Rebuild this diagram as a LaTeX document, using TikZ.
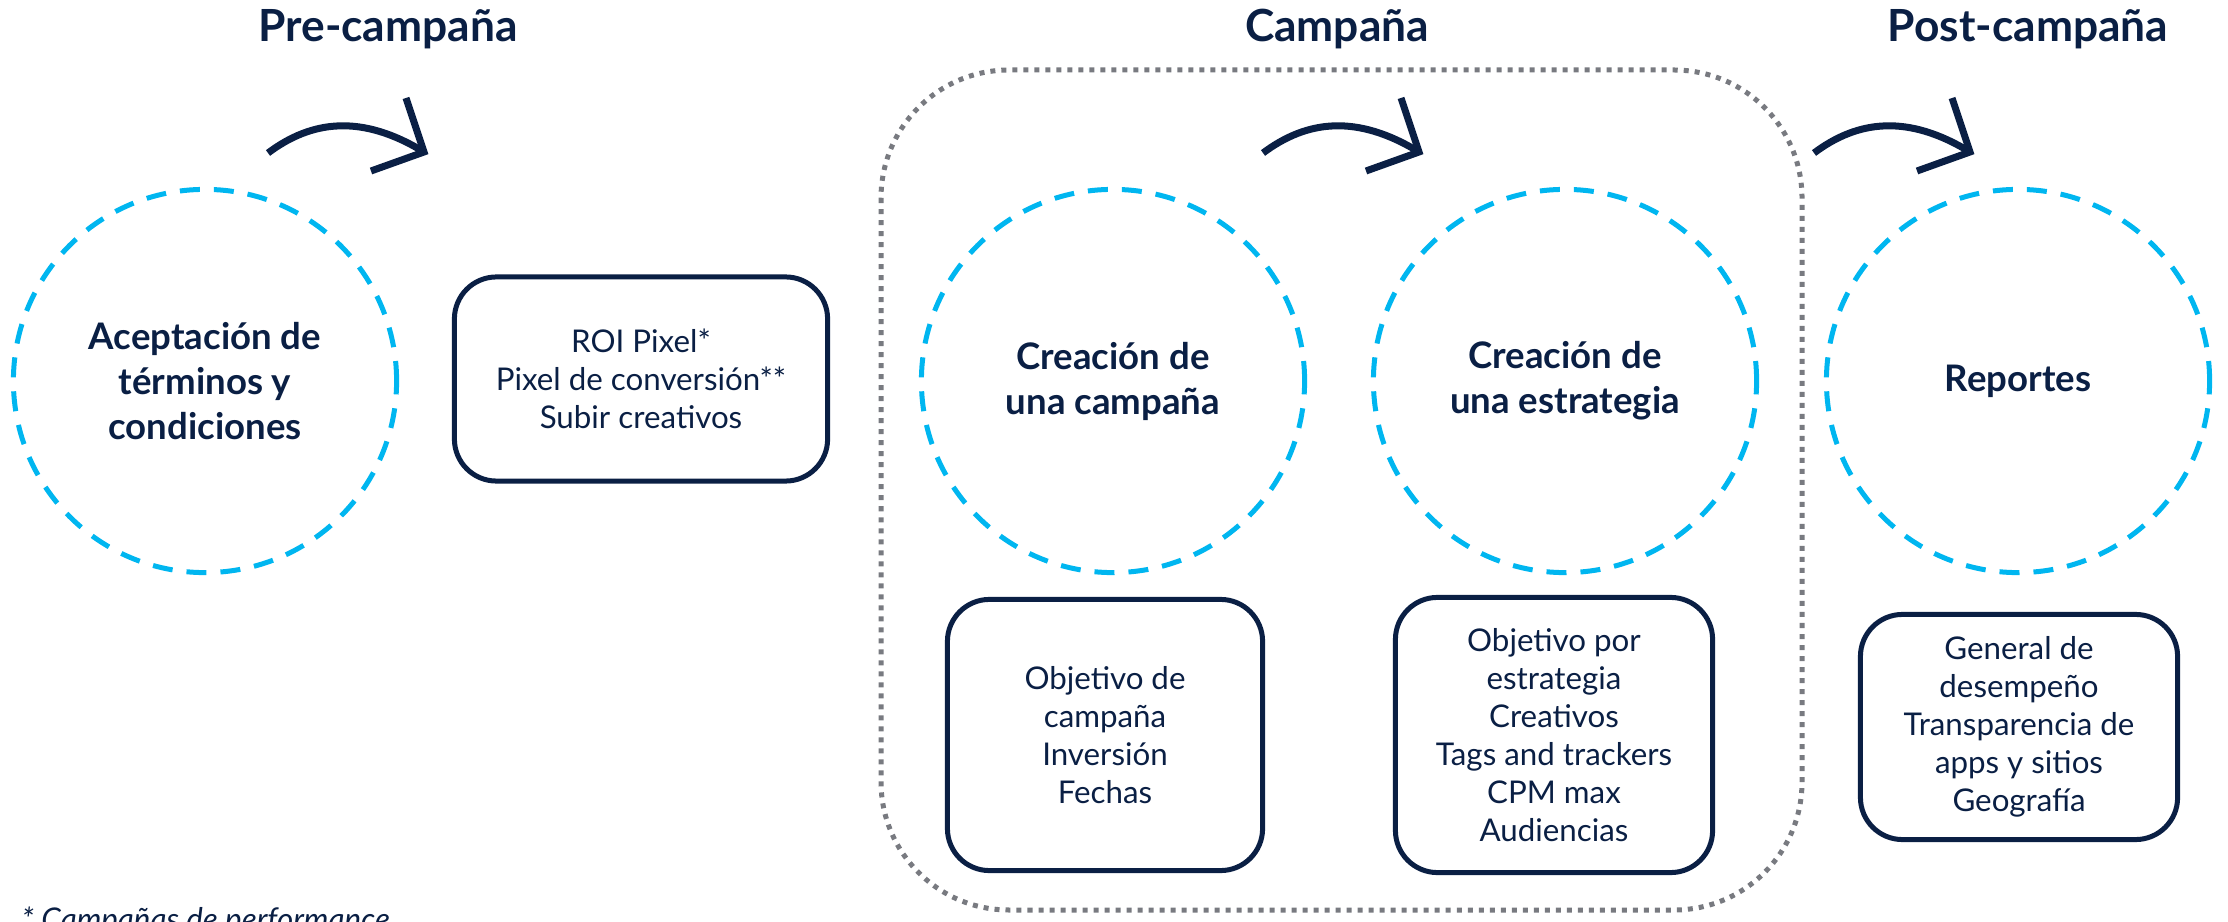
\documentclass[tikz,border=0pt]{standalone}
\usepackage{fontspec}
\setmainfont{Lato}
\usetikzlibrary{calc}
\definecolor{navy}{RGB}{10,31,68}
\definecolor{sky}{RGB}{0,182,240}
\definecolor{dotgray}{RGB}{120,122,128}
\begin{document}
\begin{tikzpicture}[x=0.01cm,y=-0.01cm,
  phase/.style={font=\fontsize{12.6}{15}\selectfont\bfseries, text=navy, inner sep=0pt, anchor=base},
  stage/.style={circle, draw=sky, line width=0.05cm, dash pattern=on 0.2cm off 0.14cm,
    minimum size=3.83cm, inner sep=0pt, align=center, text=navy,
    font=\fontsize{10.4}{12.8}\selectfont\bfseries},
  card/.style={draw=navy, line width=0.05cm, rounded corners=0.42cm, align=center,
    text=navy, font=\fontsize{8.9}{10.8}\selectfont, inner sep=0pt},
  flow/.style={draw=navy, line width=0.07cm},
  group/.style={draw=dotgray, line width=0.05cm, dash pattern=on 0.05cm off 0.06cm,
    rounded corners=1.28cm},
]
\useasboundingbox (0,0) rectangle (2228,922);

% phase titles
\node[phase] (tpre)  at (388,42)  {Pre-campaña};
\node[phase] (tcamp) at (1337,42) {Campaña};
\node[phase] (tpost) at (2028,42) {Post-campaña};

% dotted campaign group
\draw[group] (881,70) rectangle (1802,910);

% stage circles
\node[stage] (s1) at (205,381)  {Aceptación de\\términos y\\condiciones};
\node[stage] (s2) at (1113,381) {Creación de\\una campaña};
\node[stage] (s3) at (1565,381) {Creación de\\una estrategia};
\node[stage] (s4) at (2018,381) {Reportes};

% cards
\node[card, minimum width=3.73cm, minimum height=2.04cm] (c1) at (641,379)
  {ROI Pixel*\\Pixel de conversión**\\Subir creativos};
\node[card, minimum width=3.15cm, minimum height=2.71cm] (c2) at (1105,735)
  {Objetivo de\\campaña\\Inversión\\Fechas};
\node[card, minimum width=3.17cm, minimum height=2.75cm] (c3) at (1554,735)
  {Objetivo por\\estrategia\\Creativos\\Tags and trackers\\CPM max\\Audiencias};
\node[card, minimum width=3.17cm, minimum height=2.25cm] (c4) at (2019,727)
  {General de\\desempeño\\Transparencia de\\apps y sitios\\Geografía};

% curved arrows
\foreach \dx/\n in {0/a,995/b,1546/c}{
  \coordinate (tail\n) at (268+\dx,153);
  \coordinate (tip\n) at (424+\dx,152);
  \draw[flow] (tail\n) .. controls +(44,-33) and +(-62,-38) .. (tip\n);
  \draw[flow, line join=miter] ($(tip\n)+(-18,-54)$) -- (tip\n) -- ($(tip\n)+(-53,19)$);
}

% footnote (cut by the lower edge, as in the reference)
\node[anchor=base west, inner sep=0pt, text=navy,
  font=\fontsize{8.9}{10.8}\selectfont\itshape] (note) at (21,930) {* Campañas de performance};
\end{tikzpicture}
\end{document}
